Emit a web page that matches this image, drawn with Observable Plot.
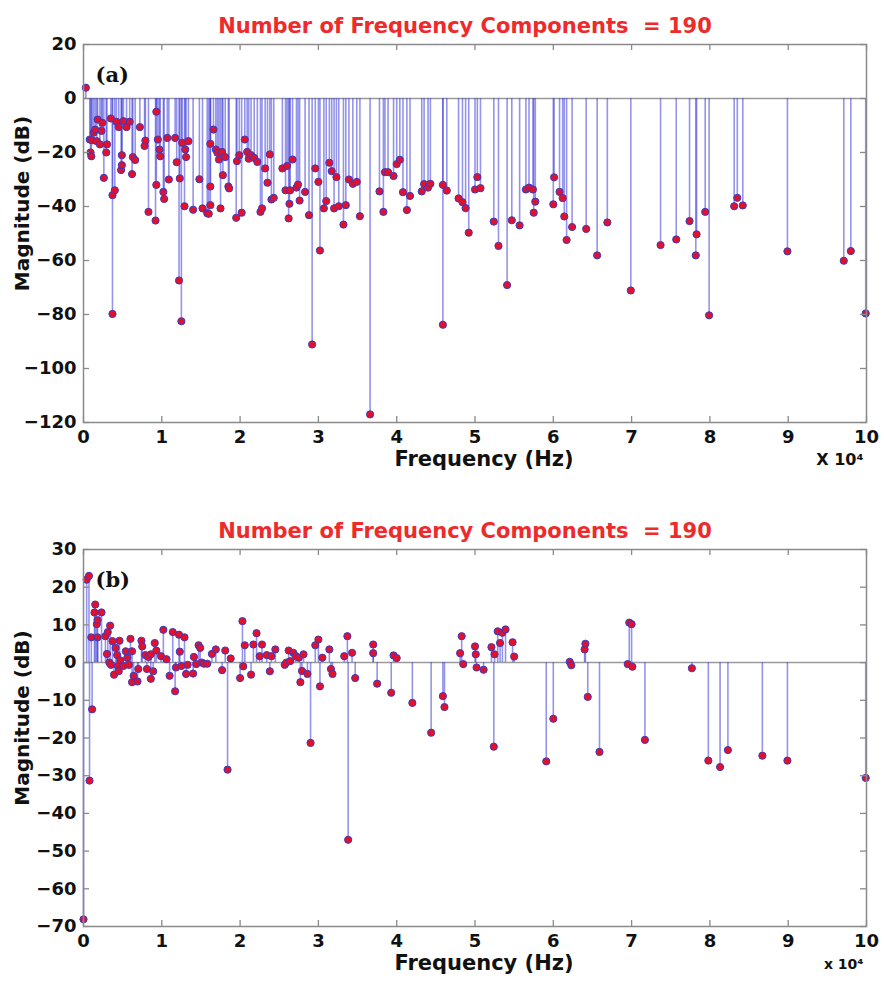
<!DOCTYPE html>
<html>
<head>
<meta charset="utf-8">
<script src="https://cdn.jsdelivr.net/npm/d3@7"></script>
<script src="https://cdn.jsdelivr.net/npm/@observablehq/plot@0.6"></script>
<style>
  html, body { margin: 0; padding: 0; background: #fff; }
  svg { display: block; }
</style>
</head>
<body>
<div id="chart"></div>
<script>
// Frequencies in units of 10^4 Hz, magnitudes in dB
const freqA = [0.03,0.08,0.09,0.10,0.11,0.13,0.15,0.17,0.18,0.21,0.23,0.24,0.26,0.29,0.30,0.35,0.37,0.37,0.40,0.42,0.45,0.48,0.49,0.49,0.51,0.55,0.59,0.62,0.63,0.66,0.72,0.78,0.79,0.83,0.92,0.93,0.93,0.95,0.97,0.98,1.02,1.03,1.07,1.09,1.17,1.19,1.22,1.23,1.25,1.26,1.29,1.30,1.31,1.34,1.40,1.48,1.52,1.58,1.60,1.62,1.62,1.62,1.66,1.69,1.71,1.73,1.75,1.77,1.78,1.81,1.85,1.86,1.95,1.96,1.99,2.02,2.06,2.09,2.11,2.14,2.18,2.22,2.26,2.28,2.32,2.35,2.38,2.40,2.43,2.54,2.58,2.60,2.62,2.63,2.64,2.67,2.72,2.74,2.76,2.83,2.88,2.92,2.96,3.00,3.02,3.07,3.10,3.14,3.17,3.20,3.23,3.26,3.32,3.35,3.39,3.44,3.49,3.53,
  3.66,3.78,3.83,3.85,3.89,3.96,4.00,4.04,4.08,4.13,4.17,4.32,4.35,4.40,4.43,4.59,4.59,4.64,4.79,4.84,4.88,4.92,5.00,5.03,5.07,5.24,5.30,5.41,5.47,5.57,5.65,5.69,5.74,5.75,5.77,6.00,6.01,6.08,6.12,6.14,6.17,6.24,6.42,6.56,6.69,
  6.99,7.37,7.57,7.74,7.82,7.83,7.94,7.99,8.31,8.35,8.42,8.99,9.71,9.80,9.99];
const magA = [4,-15.2,-20,-21.4,-15.5,-12.7,-11.5,-15.8,-7.8,-17,-12,-9,-29.4,-20,-17,-7.4,-35.8,-79.8,-34,-8.6,-10.6,-26.5,-24.7,-21,-8.4,-10.6,-8.6,-28,-21.7,-22.8,-10.6,-17.6,-15.6,-42,-45.2,-4.9,-32,-15.2,-18.9,-21.4,-34.6,-37.2,-14.6,-30,-14.6,-23.6,-67.4,-29.6,-82.5,-16.4,-39.9,-18.9,-21.7,-15.8,-41.2,-29.9,-40.7,-42.5,-42.7,-16.8,-32.6,-39.5,-11.5,-18.9,-20.1,-22.6,-40.7,-19.8,-28.4,-21.7,-32.6,-33.3,-44.2,-23.2,-21,-42.3,-15.2,-19.8,-22.3,-21,-22,-23.5,-42,-40.7,-25.9,-31.2,-20.7,-37.4,-36.8,-25.9,-34,-25,-44.4,-39,-34,-22.6,-33,-31.9,-37.8,-34.6,-43.2,-91.1,-25.9,-30.9,-56.3,-40.7,-38,-23.8,-26.9,-40.7,-29.1,-39.9,-46.7,-39.5,-30,-31.6,-30.9,-43.6,
  -117,-34.4,-42,-27.3,-27.3,-28.7,-24.3,-22.7,-34.7,-41.3,-36.1,-34.4,-31.7,-33,-31.6,-83.8,-32,-34.1,-37,-38.4,-40.6,-49.7,-33.7,-29.1,-33.2,-45.6,-54.6,-69.1,-45.1,-47,-33.7,-33,-33.7,-42.3,-38.2,-39.2,-29.2,-34.6,-36.9,-43.7,-52.4,-47.6,-48.3,-58.1,-45.9,
  -71.1,-54.3,-52.2,-45.4,-58.1,-50.3,-42,-80.3,-39.9,-36.8,-39.6,-56.6,-60.1,-56.5,-79.6];

const freqB = [0.00,0.04,0.07,0.077,0.10,0.11,0.14,0.15,0.17,0.18,0.18,0.23,0.28,0.30,0.31,0.33,0.34,0.35,0.37,0.39,0.41,0.43,0.44,0.45,0.46,0.47,0.51,0.54,0.56,0.58,0.60,0.62,0.62,0.64,0.69,0.70,0.74,0.75,0.79,0.81,0.83,0.86,0.86,0.89,0.91,0.93,0.99,1.02,1.06,1.10,1.14,1.17,1.18,1.22,1.23,1.25,1.29,1.31,1.33,1.40,1.41,1.44,1.47,1.49,1.51,1.54,1.58,1.64,1.69,1.77,1.81,1.84,1.88,2.00,2.03,2.04,2.06,2.14,2.17,2.21,2.25,2.28,2.34,2.38,2.40,2.45,2.57,2.59,2.62,2.64,2.68,2.71,2.75,2.77,2.79,2.81,2.86,2.90,2.96,3.00,3.02,3.05,3.14,3.16,3.18,3.33,3.37,3.38,3.43,3.47,3.70,3.70,3.75,3.93,3.96,4.00,4.20,4.44,4.59,4.61,4.81,4.83,4.85,5.00,5.01,5.02,5.11,5.21,5.24,5.25,5.29,5.32,5.35,5.39,5.48,5.50,5.91,6.00,6.21,6.23,6.40,6.41,6.44,6.59,6.97,7.00,6.95,7.01,7.17,7.77,7.98,8.13,8.23,8.67,8.99,9.99];
const magB = [-68.1,22,23,-31.3,6.7,-12.4,13.3,15.4,10.2,11.3,6.7,13.3,7,2.3,8.1,0,9.8,-0.6,5.7,-3.2,3.9,2,-0.9,-2.3,5.8,0.6,-0.9,3,1.3,-0.6,6.3,3,-5.2,-3.5,-5,-1.7,5.8,4.3,2,-1.7,1.5,-4.3,2.2,-2.3,5.2,3.2,1.7,8.7,0.9,-3.5,8.1,-7.6,-1.3,7.4,2.9,-0.9,6.7,-3,-0.6,-2.9,1.5,-0.4,4.6,3.9,0,-0.3,-0.3,2.3,3.5,-2,3.2,-28.4,1.1,-4.1,11,-1,4.6,-3.2,4.8,7.8,1.7,4.8,2,-2.3,1.7,3.5,-0.6,0,3.2,0.4,2.6,1.7,1.3,-5.2,-2.2,2.2,-3,-21.3,4.6,6.1,-6.3,1.3,3.5,-1.7,-3,1.7,7,-47,2.6,-4.1,4.8,2.5,-5.6,-8,1.9,1.2,-10.7,-18.6,-8.9,-11.8,2.5,7,-0.4,4.3,2.2,-1.3,-1.9,4.1,-22.3,2.2,8.3,5.2,7.9,8.8,5.4,1.6,-26.2,-14.9,0.2,-0.7,3.5,5,-9.1,-23.7,10.6,10.2,-0.4,-1.1,-20.5,-1.5,-26,-27.7,-23.2,-24.7,-26,-30.6];

const xTicks = [0,1,2,3,4,5,6,7,8,9,10];
const yTicksA = [-120,-100,-80,-60,-40,-20,0,20];
const yTicksB = [-70,-60,-50,-40,-30,-20,-10,0,10,20,30];
const titleText = "Number of Frequency Components  = 190";

function makeChart({freq, mag, yDomain, yTicks, height, marginTop, marginBottom, panel, xExpLabel, expSize, yLabelDy}) {
  const width = 884, ml = 83, mr = 18;
  const fw = width - ml - mr;
  const fh = height - marginTop - marginBottom;
  const data = freq.map((f, i) => ({f, m: mag[i]}));
  const tickColor = "#8a8a8a";
  return Plot.plot({
    width, height,
    marginLeft: ml, marginRight: mr, marginTop, marginBottom,
    style: {fontFamily: "DejaVu Sans", fontSize: "17px", fontWeight: "bold", color: "#111", background: "#fff"},
    x: {domain: [0, 10]},
    y: {domain: yDomain},
    marks: [
      Plot.ruleY([0], {stroke: "#9a9a9a", strokeWidth: 1.5}),
      Plot.ruleX(data, {x: "f", y1: 0, y2: "m", stroke: "#3c3cd8", strokeOpacity: 0.55, strokeWidth: 1.6}),
      Plot.dot(data, {x: "f", y: "m", r: 3.6, fill: "#e3102c", stroke: "#3a3abf", strokeWidth: 1}),
      Plot.frame({stroke: "#8a8a8a", strokeWidth: 1.5}),
      Plot.ruleX(xTicks, {x: d => d, insetTop: fh - 6, stroke: tickColor, strokeWidth: 1.3}),
      Plot.ruleX(xTicks, {x: d => d, insetBottom: fh - 6, stroke: tickColor, strokeWidth: 1.3}),
      Plot.ruleY(yTicks, {y: d => d, insetRight: fw - 6, stroke: tickColor, strokeWidth: 1.3}),
      Plot.ruleY(yTicks, {y: d => d, insetLeft: fw - 6, stroke: tickColor, strokeWidth: 1.3}),
      Plot.axisX({ticks: xTicks, tickSize: 0, tickPadding: 8, label: null, fontSize: 18, fontWeight: "bold", fill: "#111"}),
      Plot.axisY({ticks: yTicks, tickSize: 0, tickPadding: 7, label: null, fontSize: 18, fontWeight: "bold", fill: "#111"}),
      Plot.text([titleText], {frameAnchor: "top", dx: -10, dy: -26, fontSize: 21, fontWeight: "bold", fill: "#ee2a2a", fontFamily: "DejaVu Sans"}),
      Plot.text([panel], {frameAnchor: "top-left", dx: 12, dy: 23, textAnchor: "start", fontSize: 21, fontWeight: "bold", fontFamily: "DejaVu Serif", fill: "#111"}),
      Plot.text(["Frequency (Hz)"], {frameAnchor: "bottom", dx: 9, dy: 43, fontSize: 21, fontWeight: "bold", fill: "#111"}),
      Plot.text([xExpLabel], {frameAnchor: "bottom-right", dy: 42, dx: -3, textAnchor: "end", fontSize: expSize, fontWeight: "bold", fill: "#111"}),
      Plot.text(["Magnitude (dB)"], {frameAnchor: "left", dx: -61, dy: yLabelDy, textAnchor: "middle", rotate: -90, fontSize: 20, fontWeight: "bold", fill: "#111"})
    ]
  });
}

const root = document.getElementById("chart");
root.append(makeChart({freq: freqA, mag: magA, yDomain: [-120, 20], yTicks: yTicksA, height: 493, marginTop: 44, marginBottom: 71, panel: "(a)", xExpLabel: "X 10⁴", expSize: 16, yLabelDy: -30}));
root.append(makeChart({freq: freqB, mag: magB, yDomain: [-70, 30], yTicks: yTicksB, height: 494, marginTop: 56, marginBottom: 61, panel: "(b)", xExpLabel: "x 10⁴", expSize: 14, yLabelDy: -20}));
</script>
</body>
</html>
